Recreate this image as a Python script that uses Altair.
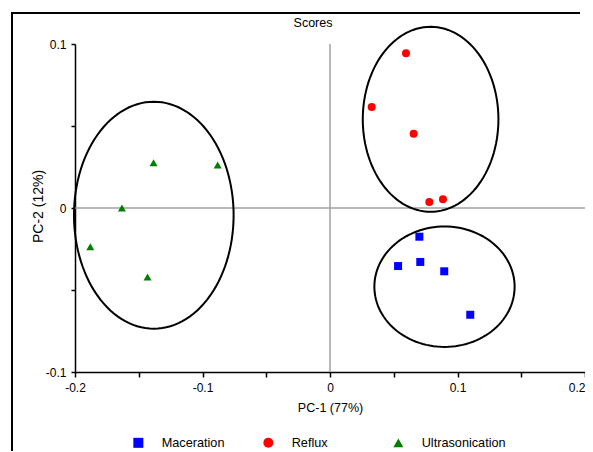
import numpy as np
import pandas as pd
import altair as alt

FONT = "Liberation Sans"

# --- data ---
groups = ["Maceration", "Reflux", "Ultrasonication"]
colors = ["#0000FF", "#FF0000", "#008000"]
shapes = ["square", "circle", "triangle-up"]

mac_x = [0.0701, 0.0534, 0.0708, 0.0896, 0.1100]
mac_y = [-0.0175, -0.0354, -0.0329, -0.0386, -0.0651]
ref_x = [0.0596, 0.0327, 0.0656, 0.0779, 0.0886]
ref_y = [0.0943, 0.0616, 0.0453, 0.0037, 0.0053]
ult_x = [-0.1384, -0.0881, -0.1632, -0.1880, -0.1431]
ult_y = [0.0276, 0.0262, 0.0000, -0.0236, -0.0421]

# confidence ellipses: centre and radii (data units)
ell_cx = [0.0898, 0.0789, -0.1382]
ell_cy = [-0.0480, 0.0541, -0.0044]
ell_rx = [0.0550, 0.0532, 0.0626]
ell_ry = [0.0367, 0.0564, 0.0692]

x_ticks = [-0.2, -0.15, -0.1, -0.05, 0, 0.05, 0.1, 0.15, 0.2]
y_ticks = [-0.1, -0.05, 0, 0.05, 0.1]

# --- tables ---
pts = pd.DataFrame({
    "x": mac_x + ref_x + ult_x,
    "y": mac_y + ref_y + ult_y,
    "group": ["Maceration"] * len(mac_x) + ["Reflux"] * len(ref_x) + ["Ultrasonication"] * len(ult_x),
})

t = np.linspace(0, 2 * np.pi, 121)
rows = []
for g, cx, cy, rx, ry in zip(groups, ell_cx, ell_cy, ell_rx, ell_ry):
    for i, a in enumerate(t):
        rows.append({"group": g, "i": i, "x": cx + rx * np.cos(a), "y": cy + ry * np.sin(a)})
ell = pd.DataFrame(rows)

xscale = alt.Scale(domain=[-0.2, 0.2], nice=False, zero=False)
yscale = alt.Scale(domain=[-0.1, 0.1], nice=False, zero=False)

lab_expr = "round(datum.value*100) % 10 == 0 ? '' + datum.value : ''"

x_axis = alt.Axis(values=x_ticks, labelExpr=lab_expr, grid=False, domainColor="black",
                  domainWidth=1.5, tickColor="black", tickWidth=1.5, tickSize=5,
                  labelFont=FONT, labelFontSize=12, labelColor="black", labelPadding=5,
                  labelFlush=False,
                  labelAlign=alt.ExprRef(expr="datum.value >= 0.2 ? 'right' : 'center'"),
                  title="PC-1 (77%)", titleFont=FONT, titleFontSize=12.5,
                  titleFontWeight="normal", titleColor="black", titlePadding=8)
y_axis = alt.Axis(values=y_ticks, labelExpr=lab_expr, grid=False, domainColor="black",
                  domainWidth=1.5, tickColor="black", tickWidth=1.5, tickSize=4,
                  labelFont=FONT, labelFontSize=12, labelColor="black", labelPadding=5,
                  labelFlush=False,
                  title="PC-2 (12%)", titleFont=FONT, titleFontSize=14,
                  titleFontWeight="normal", titleColor="black",
                  titleX=-37, titleY=162, titleAngle=-90, titleAlign="center",
                  titleBaseline="middle")

# outer frame (top and left edges; the rest lies outside the picture)
frame_df = pd.DataFrame({"k": [0]})
frame_top = alt.Chart(frame_df).mark_rule(color="black", strokeWidth=2, clip=False).encode(
    x=alt.value(-64), x2=alt.value(505), y=alt.value(-31))
frame_left = alt.Chart(frame_df).mark_rule(color="black", strokeWidth=2, clip=False).encode(
    x=alt.value(-63), y=alt.value(-32), y2=alt.value(407))

zero_v = alt.Chart(pd.DataFrame({"x": [0.0]})).mark_rule(color="#a0a0a0", strokeWidth=1.5).encode(
    x=alt.X("x:Q", scale=xscale, axis=x_axis))
zero_h = alt.Chart(pd.DataFrame({"y": [0.0]})).mark_rule(color="#a0a0a0", strokeWidth=1.5).encode(
    y=alt.Y("y:Q", scale=yscale, axis=y_axis))

ellipses = alt.Chart(ell).mark_line(color="black", strokeWidth=2, clip=False).encode(
    x=alt.X("x:Q", scale=xscale, axis=x_axis),
    y=alt.Y("y:Q", scale=yscale, axis=y_axis),
    detail="group:N",
    order="i:Q",
)

legend = alt.Legend(orient="none", legendX=57, legendY=392, direction="horizontal",
                    title=None, labelFont=FONT, labelFontSize=12.7, labelColor="black",
                    symbolSize=100, symbolStrokeWidth=0, labelOffset=17,
                    columnPadding=16, gridAlign="all", padding=0)

points = alt.Chart(pts).mark_point(filled=True, size=64, opacity=1).encode(
    x=alt.X("x:Q", scale=xscale, axis=x_axis),
    y=alt.Y("y:Q", scale=yscale, axis=y_axis),
    color=alt.Color("group:N", scale=alt.Scale(domain=groups, range=colors), legend=legend),
    shape=alt.Shape("group:N", scale=alt.Scale(domain=groups, range=shapes), legend=legend),
)

chart = alt.layer(frame_top, frame_left, zero_v, zero_h, ellipses, points).properties(
    width=510, height=328,
    title=alt.TitleParams("Scores", font=FONT, fontSize=12.5, fontWeight="normal",
                          color="black", anchor="middle", frame="group", dx=-17,
                          dy=32, offset=14),
    padding={"left": 67, "top": 36, "right": 0, "bottom": 80},
    autosize=alt.AutoSizeParams(type="none"),
).configure_view(stroke=None)

chart.save("out.html", embed_options={"renderer": "svg", "actions": False})
